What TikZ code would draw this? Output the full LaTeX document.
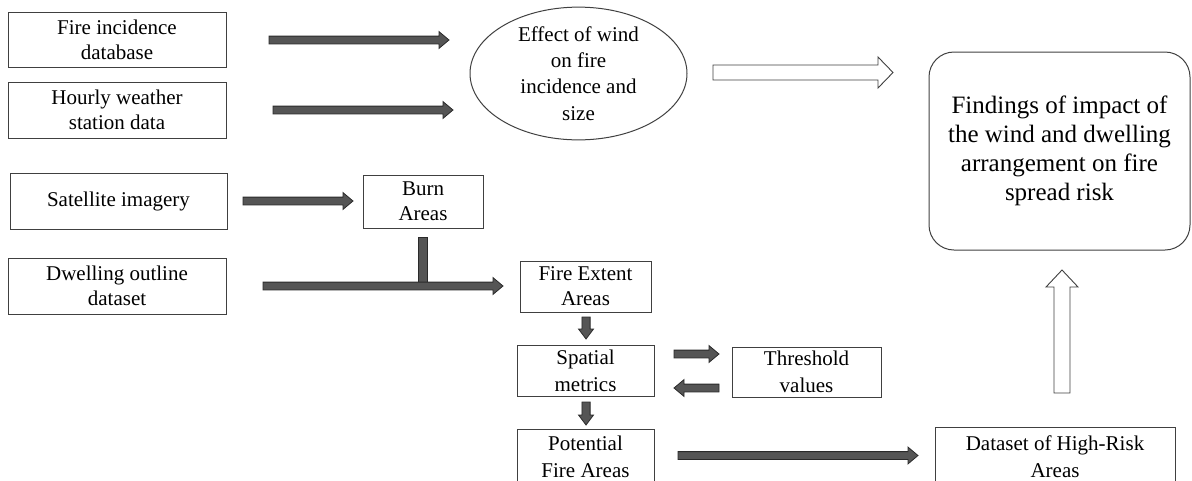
\documentclass[tikz,border=0pt]{standalone}
\usepackage{fontspec}
\setmainfont{LiberationSerif}[Extension=.ttf, UprightFont=*-Regular, BoldFont=*-Bold]
\usetikzlibrary{calc,shapes.geometric}
\definecolor{boxline}{HTML}{404040}
\definecolor{arrfill}{HTML}{555555}
\definecolor{arrline}{HTML}{2A2A2A}
\tikzset{
  box/.style={draw=boxline, line width=1pt, rectangle, inner sep=0pt, align=center,
    font=\fontsize{21}{25}\selectfont},
  blockarrow/.style n args={3}{to path={
    ($(\tikztostart)!#1!90:(\tikztotarget)$) --
    ($(\tikztotarget)!#3!(\tikztostart)!#1!-90:(\tikztostart)$) --
    ($(\tikztotarget)!#3!(\tikztostart)!#2!-90:(\tikztostart)$) --
    (\tikztotarget) --
    ($(\tikztotarget)!#3!(\tikztostart)!#2!90:(\tikztostart)$) --
    ($(\tikztotarget)!#3!(\tikztostart)!#1!90:(\tikztostart)$) --
    ($(\tikztostart)!#1!-90:(\tikztotarget)$) -- cycle}},
  solidarrow/.style={fill=arrfill, draw=arrline, line width=0.8pt, line join=miter,
    blockarrow={3.9pt}{8.4pt}{10pt}},
  smallarrow/.style={fill=arrfill, draw=arrline, line width=0.8pt, line join=miter,
    blockarrow={4.1pt}{7.5pt}{10pt}},
  hollowarrow/.style={fill=white, draw=boxline, line width=0.9pt, line join=miter,
    blockarrow={7.5pt}{15.5pt}{15pt}},
  barstyle/.style={fill=arrfill, draw=arrline, line width=0.8pt},
}
\begin{document}
\begin{tikzpicture}[x=1pt, y=-1pt]
\useasboundingbox (0,0) rectangle (1192,480);
\clip (0,0) rectangle (1192,480);

% boxes
\node[box, minimum width=218, minimum height=55] (fid) at (117,39.5) {Fire incidence\\database};
\node[box, minimum width=218, minimum height=56] (hwd) at (117,110) {Hourly weather\\station data};
\node[box, minimum width=217, minimum height=56] (sat) at (118.5,201) {Satellite imagery};
\node[box, minimum width=218, minimum height=56] (dwl) at (117,286) {Dwelling outline\\dataset};
\node[box, minimum width=120, minimum height=53] (burn) at (423,201.5) {Burn\\Areas};
\node[box, minimum width=131, minimum height=51] (fea) at (585.5,286.5) {Fire Extent\\Areas};
\node[box, minimum width=137, minimum height=51, font=\fontsize{21}{27}\selectfont] (spm) at (585.5,370.5) {Spatial\\metrics};
\node[box, minimum width=149, minimum height=50, font=\fontsize{21}{27}\selectfont] (thr) at (806.5,372) {Threshold\\values};
\node[box, minimum width=137, minimum height=55, font=\fontsize{21}{27}\selectfont] (pfa) at (585.5,456.5) {Potential\\Fire Areas};
\node[box, minimum width=240, minimum height=59, font=\fontsize{21}{27}\selectfont] (dhr) at (1055,456.5) {Dataset of High-Risk\\Areas};
\node[draw=boxline, line width=1pt, ellipse, inner sep=0pt, minimum width=217, minimum height=128,
  align=center, font=\fontsize{21}{26.3}\selectfont] (eff) at (578.5,73.5) {Effect of wind\\on fire\\incidence and\\size};
\node[draw=boxline, line width=1pt, rectangle, rounded corners=25pt, inner sep=0pt,
  minimum width=261, minimum height=198, align=center, font=\fontsize{25}{29}\selectfont]
  (find) at (1059.5,151) {Findings of impact of\\the wind and dwelling\\arrangement on fire\\spread risk};

% arrow end points
\coordinate (a1s) at (269,40);   \coordinate (a1e) at (449,40);
\coordinate (a2s) at (273,110);  \coordinate (a2e) at (453,110);
\coordinate (a3s) at (243,201);  \coordinate (a3e) at (353,201);
\coordinate (a4s) at (263,286);  \coordinate (a4e) at (503,286);
\coordinate (d1s) at (586,317);  \coordinate (d1e) at (586,339);
\coordinate (r1s) at (674,354);  \coordinate (r1e) at (719,354);
\coordinate (l1s) at (719,388);  \coordinate (l1e) at (674,388);
\coordinate (d2s) at (586,402);  \coordinate (d2e) at (586,425);
\coordinate (a5s) at (678,455.5); \coordinate (a5e) at (918,455.5);
\coordinate (h1s) at (713,72.5); \coordinate (h1e) at (893,72.5);
\coordinate (h2s) at (1062,393); \coordinate (h2e) at (1062,270);

% bar from Burn Areas down to the long arrow
\draw[barstyle] ($(burn.south)+(-4.5,9)$) rectangle ($(burn.south)+(4.5,54)$);

% solid arrows
\draw[solidarrow] (a1s) to (a1e);
\draw[solidarrow] (a2s) to (a2e);
\draw[solidarrow] (a3s) to (a3e);
\draw[solidarrow] (a4s) to (a4e);
\draw[smallarrow] (d1s) to (d1e);
\draw[solidarrow] (r1s) to (r1e);
\draw[solidarrow] (l1s) to (l1e);
\draw[smallarrow] (d2s) to (d2e);
\draw[solidarrow] (a5s) to (a5e);

% hollow arrows
\draw[hollowarrow] (h1s) to (h1e);
\draw[hollowarrow, blockarrow={8pt}{16pt}{17pt}] (h2s) to (h2e);
\end{tikzpicture}
\end{document}
